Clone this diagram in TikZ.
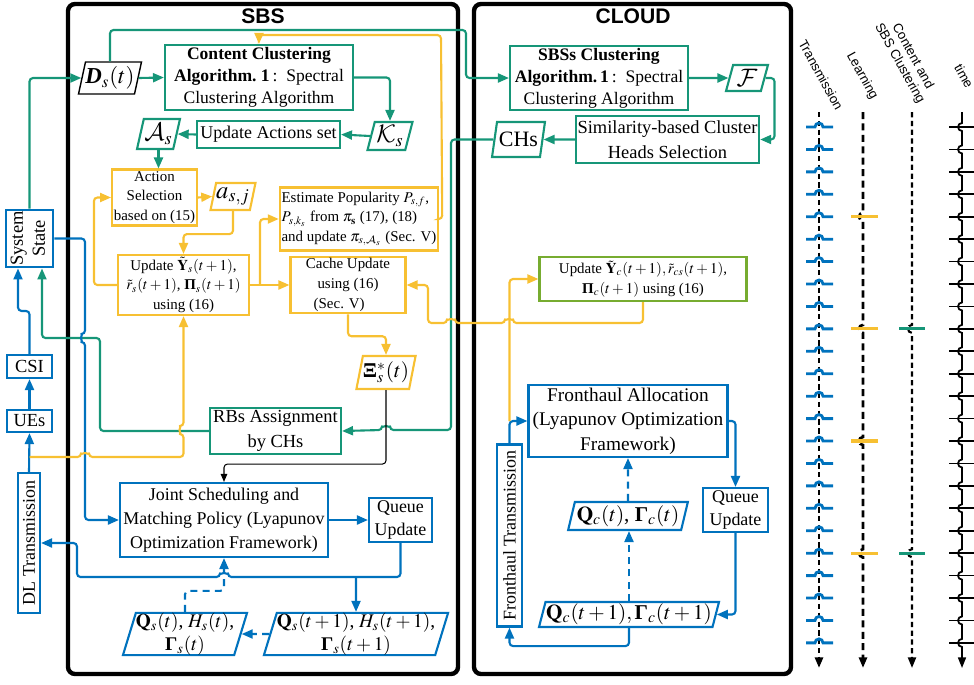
\documentclass[tikz,border=0pt]{standalone}
\usepackage{amsmath}
\usepackage{mathptmx}
\usepackage[no-math]{fontspec}
\setmainfont{Liberation Serif}
\setsansfont{Liberation Sans}
\DeclareMathAlphabet{\mathcal}{OMS}{cmsy}{m}{n}
\newcommand{\bPi}{\text{\normalfont\bfseries Π}}
\newcommand{\bGamma}{\text{\normalfont\bfseries Γ}}
\newcommand{\bXi}{\text{\normalfont\bfseries Ξ}}
\usetikzlibrary{shapes.geometric,arrows.meta,calc}
\definecolor{sbsgreen}{RGB}{22,150,120}
\definecolor{sbsblue}{RGB}{0,114,189}
\definecolor{sbsyellow}{RGB}{247,192,50}
\definecolor{cloudgreen}{RGB}{119,172,48}
\tikzset{
  sz/.style 2 args={minimum width=#1*0.02cm, minimum height=#2*0.02cm},
  blockbox/.style={draw, line width=1.2pt, align=center, inner sep=1pt, font=\fontsize{10.2}{13.5}\selectfont},
  gbox/.style={blockbox, draw=sbsgreen},
  bbox/.style={blockbox, draw=sbsblue},
  ybox/.style={blockbox, draw=sbsyellow, font=\fontsize{8.5}{11.2}\selectfont},
  para/.style={trapezium, trapezium left angle=73, trapezium right angle=107, trapezium stretches=true,
    draw, line width=1.2pt, inner sep=0pt, align=center, font=\fontsize{11}{13}\selectfont},
  headtip/.style={-{Triangle[length=2.2mm,width=1.8mm]}},
  wire/.style={line width=1.2pt, rounded corners=2pt, headtip},
  gwire/.style={wire, draw=sbsgreen},
  bwire/.style={wire, draw=sbsblue},
  ywire/.style={wire, draw=sbsyellow},
  dwire/.style={bwire, dash pattern=on 4pt off 3pt},
  lane/.style={line width=1.5pt, -{Triangle[length=6pt,width=4.5pt]}},
  lanelbl/.style={rotate=-61, font=\sffamily\fontsize{7.5}{8.5}\selectfont, align=center}
}
\begin{document}
\begin{tikzpicture}[x=0.02cm, y=-0.02cm]
\useasboundingbox (0,0) rectangle (974,684);
\draw[line width=2.5pt, rounded corners=4pt] (68,4) rectangle (458,674);
\draw[line width=2.5pt, rounded corners=4pt] (474,4) rectangle (791,674);
\node[font=\sffamily\bfseries\fontsize{12}{14}\selectfont] (sbs) at (263,16) {SBS};
\node[font=\sffamily\bfseries\fontsize{12}{14}\selectfont] (cloud) at (633,16) {CLOUD};

\node[para, draw=black, line width=0.8pt, sz={54}{32}, font=\fontsize{13}{15}\selectfont] (Ds) at (110,78) {\textbf{\textit{D}}$_s(t)$};
\node[gbox, sz={188}{65}, font=\fontsize{10}{12.5}\selectfont] (cc) at (259,77.5) {\textbf{Content Clustering}\\\textbf{Algorithm.~1}\,:~~Spectral\\Clustering Algorithm};
\node[para, draw=sbsgreen, sz={45}{28}, font=\fontsize{14}{16}\selectfont] (Ks) at (390,136) {$\mathcal{K}_s$};
\node[gbox, sz={143}{27}] (ua) at (268.5,134.5) {Update Actions set};
\node[para, draw=sbsgreen, sz={43}{30}, font=\fontsize{14}{16}\selectfont] (As) at (158.5,134) {$\mathcal{A}_s$};
\node[ybox, sz={83}{55}] (act) at (154.5,197.5) {Action\\Selection\\based on (15)};
\node[para, draw=sbsyellow, sz={45}{27}, font=\fontsize{14}{16}\selectfont] (asj) at (233,196.5) {$a_{s,j}$};
\node[ybox, sz={131}{60}] (upd) at (183.5,285) {Update $\tilde{\mathbf{Y}}_s(t+1)$,\\$\tilde{r}_s(t+1)$,~$\bPi_s(t+1)$\\using (16)};
\node[ybox, sz={158}{63}, align=left] (est) at (359,219) {Estimate Popularity $P_{s,f}$,\\$P_{s,k_s}$ from $\pi_{\mathbf{s}}$ (17), (18)\\and update $\pi_{s,\mathcal{A}_s}$ (Sec. V)};
\node[ybox, sz={115}{52}] (cache) at (348,285) {Cache Update\\using (16)\\\hspace*{-10pt}(Sec. V)};
\node[para, draw=sbsyellow, sz={48}{33}, font=\fontsize{12}{14}\selectfont] (xi) at (386,372.5) {$\bXi^*_s(t)$};
\node[gbox, sz={131}{41}, font=\fontsize{10.5}{14.5}\selectfont] (rbs) at (275.5,431) {RBs Assignment\\by CHs};

\node[bbox, sz={44}{57}, font=\fontsize{10.5}{12.5}\selectfont] (sys) at (29.5,238.5) {\rotatebox{90}{\begin{tabular}{@{}c@{}}System\\State\end{tabular}}};
\node[bbox, sz={45}{23}, font=\fontsize{10.5}{12.5}\selectfont] (csi) at (29.5,366.5) {CSI};
\node[bbox, sz={45}{22}, font=\fontsize{10.5}{12.5}\selectfont] (ues) at (29.5,421) {UEs};
\node[bbox, sz={22}{140}] (dl) at (29,543) {\rotatebox{90}{DL Transmission}};
\node[bbox, sz={208}{74}] (js) at (224,520) {Joint Scheduling and\\Matching Policy (Lyapunov\\Optimization Framework)};
\node[bbox, sz={63}{44}] (qus) at (400.5,520) {Queue\\Update};
\node[para, draw=sbsblue, sz={113}{42}] (qs) at (185,634) {$\mathbf{Q}_s(t)$,~$H_s(t)$,\\$\bGamma_s(t)$};
\node[para, draw=sbsblue, sz={178}{42}] (qs1) at (356,634) {$\mathbf{Q}_s(t+1)$,~$H_s(t+1)$,\\$\bGamma_s(t+1)$};

\node[gbox, sz={178}{62}, font=\fontsize{10}{12.5}\selectfont] (sbsc) at (599,78) {\textbf{SBSs Clustering}\\\textbf{Algorithm.\,1}\,:~~Spectral\\Clustering Algorithm};
\node[para, draw=sbsgreen, sz={42}{26}, font=\fontsize{14}{16}\selectfont] (F) at (747,78) {$\mathcal{F}$};
\node[gbox, sz={181}{47}, font=\fontsize{10.5}{14}\selectfont] (sim) at (667.5,139.5) {Similarity-based Cluster\\Heads Selection};
\node[para, draw=sbsgreen, sz={53}{35}, font=\fontsize{12.5}{14}\selectfont] (chs) at (518.5,139.5) {CHs};
\node[ybox, draw=cloudgreen, sz={207}{44}] (updc) at (643,279) {Update $\tilde{\mathbf{Y}}_c(t+1), \tilde{r}_{cs}(t+1)$,\\$\bPi_c(t+1)$ using (16)};
\node[bbox, sz={199}{72}, font=\fontsize{11}{14}\selectfont] (fa) at (628,421) {Fronthaul Allocation\\(Lyapunov Optimization\\Framework)};
\node[bbox, sz={25}{182}] (ft) at (509.5,535.5) {\rotatebox{90}{Fronthaul Transmission}};
\node[bbox, sz={65}{44}] (quc) at (735.5,510) {Queue\\Update};
\node[para, draw=sbsblue, sz={120}{28}, font=\fontsize{12}{14}\selectfont] (qc) at (628,516) {$\mathbf{Q}_c(t)$,~$\bGamma_c(t)$};
\node[para, draw=sbsblue, sz={180}{25}, font=\fontsize{12}{14}\selectfont] (qc1) at (629,614.5) {$\mathbf{Q}_c(t+1),\bGamma_c(t+1)$};

\coordinate (qsplit) at (356,577);
\coordinate (ysplit) at (260,285);
\coordinate (ytap) at (29.5,457);

\draw[gwire] (sys.north) |- (Ds.west);
\draw[gwire] (Ds.east) -- (cc.west);
\draw[gwire] (Ds.north) |- (466,30) |- (sbsc.west);
\draw[gwire] (cc.east) -| (Ks.north);
\draw[gwire] (Ks.west) -- (ua.east);
\draw[gwire] (ua.west) -- (As.east);
\draw[gwire] (As.south) -- (As.south |- act.north);
\draw[gwire] (sbsc.east) -- (F.west);
\draw[gwire] (F.east) -- ++(9,0) |- (sim.east);
\draw[gwire] (sim.west) -- (chs.east);
\draw[gwire] (chs.west) -- (451,139.5) -- (451,430) -- (390,430) arc[start angle=0,end angle=-180,radius=4] -- (rbs.east);
\draw[gwire] (rbs.west) -| (100,338) -| ([xshift=0.25cm]sys.south);

\draw[bwire] (dl.north) -- (ues.south);
\draw[bwire] (ues.north) -- (csi.south);
\draw[bwire] (csi.north) -- ++(0,-43) -| ([xshift=-0.23cm]sys.south);
\draw[bwire] (sys.east) -- (85,238.5) -- (85,334) arc[start angle=270,end angle=90,radius=4] |- (js.west);
\draw[bwire] (js.east) -- (qus.west);
\draw[bwire] (qus.south) |- (228,577) arc[start angle=0,end angle=-180,radius=4] -- (77,577) |- (dl.east);
\draw[bwire] (qsplit) -- (qs1.north);
\draw[dwire] (qs1.west) -- (qs.east);
\draw[dwire] (qs.north) -- ++(0,-21) -| (js.south);
\draw[bwire] (qc1.south) -- ++(0,18) -| (ft.south);
\draw[bwire] (ft.north) |- (fa.west);
\draw[bwire] (fa.east) -| (quc.north);
\draw[bwire] (quc.south) |- (qc1.east);
\draw[dwire] (qc1.north) -- (qc1.north |- qc.south);
\draw[dwire] (qc.north) -- (fa.south);

\draw[ywire] (act.east) -- (asj.west);
\draw[ywire] (asj.south) -- ++(0,23) -| (upd.north);
\draw[ywire] (upd.west) -- ++(-23,0) |- (act.west);
\draw[ywire] (upd.east) -- (cache.west);
\draw[ywire] (ysplit) |- (est.west);
\draw[ywire] (est.east) -- ++(3,0) -- (441,35) -| (cc.north);
\draw[ywire] (cache.south) -- ++(0,22) -| (xi.north);
\draw[ywire] (updc.south) |- (513,323) arc[start angle=0,end angle=-180,radius=4] -- (455,323) arc[start angle=0,end angle=-180,radius=4] -- (428,323) |- (cache.east);
\draw[ywire] (ft.north |- fa.west) |- (updc.west);
\draw[ywire] (ytap) -- (81,457) arc[start angle=180,end angle=360,radius=4] -- (183.5,457) -- (183.5,434) arc[start angle=90,end angle=270,radius=4] -- (upd.south);
\draw[line width=0.6pt, rounded corners=2pt, -{Triangle[length=1.6mm,width=1.3mm]}] (xi.south) -- ++(0,74) -| (js.north);

\node[lanelbl] (txl) at (821,75) {Transmission};
\node[lanelbl] (lrl) at (862,76) {Learning};
\node[lanelbl] (csl) at (906,60) {Content and\\SBS Clustering};
\node[lanelbl] (tml) at (964,76) {time};
\draw[lane, dash pattern=on 3pt off 2pt] (819,112) -- (819,668);
\draw[lane, dash pattern=on 4pt off 2.5pt] (863,112) \foreach \k in {4,9,14,19}{ -- (863,{127+22.43*\k-4}) arc[start angle=270,end angle=90,radius=4] } -- (863,668);
\draw[lane, line width=1.2pt, dash pattern=on 3pt off 2pt] (912,112) \foreach \k in {9,19}{ -- (912,{127+22.43*\k-4}) arc[start angle=270,end angle=90,radius=4] } -- (912,668);
\draw[lane, line width=1pt] (962,112) \foreach \k in {0,...,23}{ -- (962,{127+22.43*\k-4}) arc[start angle=270,end angle=90,radius=4] } -- (962,668);
\foreach \k in {0,...,23}{
  \draw[sbsblue, line width=1.6pt] (806,{127+22.43*\k}) -- (815,{127+22.43*\k}) arc[start angle=180,end angle=360,radius=4] -- (833,{127+22.43*\k});
  \draw[line width=1pt] (949,{127+22.43*\k}) -- (974,{127+22.43*\k});
}
\foreach \k in {4,9,14,19}{
  \draw[sbsyellow, line width=1.8pt] (851,{127+22.43*\k}) -- (878,{127+22.43*\k});
}
\foreach \k in {9,19}{
  \draw[sbsgreen, line width=1.8pt] (899,{127+22.43*\k}) -- (925,{127+22.43*\k});
}
\end{tikzpicture}
\end{document}
